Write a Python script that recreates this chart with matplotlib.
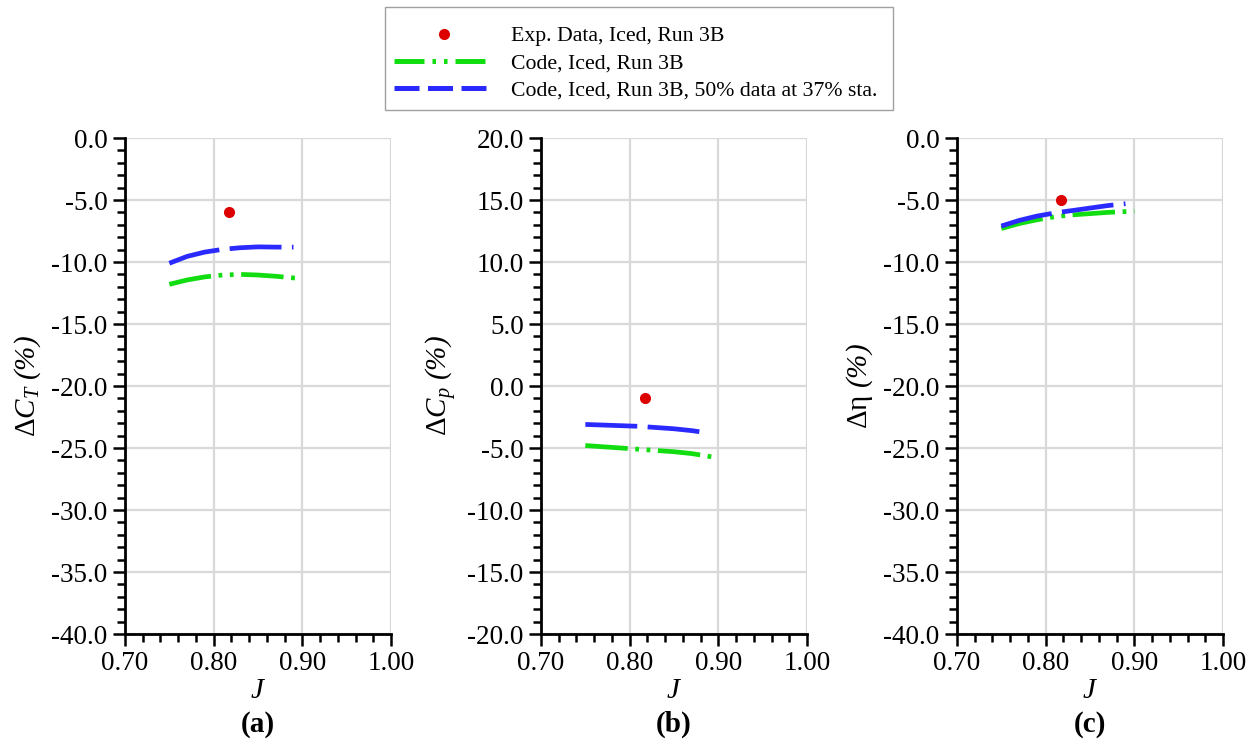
import matplotlib
matplotlib.use('Agg')
import matplotlib.pyplot as plt
from matplotlib.lines import Line2D
from matplotlib.patches import Rectangle
from matplotlib.ticker import MultipleLocator, FormatStrFormatter

plt.rcParams['font.family'] = ['Liberation Serif', 'DejaVu Serif']
plt.rcParams['mathtext.fontset'] = 'custom'
plt.rcParams['mathtext.rm'] = 'Liberation Serif:italic'
plt.rcParams['mathtext.it'] = 'Liberation Serif:italic'
plt.rcParams['mathtext.bf'] = 'Liberation Serif:bold'

# 資料
exp_J = [0.817]
exp_ct = [-6.0]
exp_cp = [-1.0]
exp_eta = [-5.0]

code_J = [0.75, 0.77, 0.79, 0.81, 0.83, 0.85, 0.87, 0.90]
code_ct = [-11.8, -11.45, -11.2, -11.05, -11.0, -11.05, -11.15, -11.35]
code_cp = [-4.8, -4.9, -5.0, -5.1, -5.2, -5.3, -5.45, -5.8]
code_eta = [-7.3, -6.9, -6.6, -6.35, -6.2, -6.1, -6.0, -5.9]

c50_J = [0.75, 0.77, 0.79, 0.81, 0.83, 0.85, 0.87, 0.89]
c50_ct = [-10.1, -9.55, -9.2, -8.98, -8.85, -8.78, -8.8, -8.8]
c50_cp = [-3.1, -3.15, -3.2, -3.25, -3.35, -3.45, -3.6, -3.8]
c50_eta = [-7.1, -6.65, -6.3, -6.05, -5.85, -5.65, -5.45, -5.3]

red = '#dd0000'
green = '#11dd11'
blue = '#2a2aff'

fig = plt.figure(figsize=(12.6, 7.49), dpi=100)

lefts = [125, 541, 957]
panels = [
    (exp_ct, code_ct, c50_ct, (-40, 0), r'Δ$C_T\ (\%)$', '(a)'),
    (exp_cp, code_cp, c50_cp, (-20, 20), r'Δ$C_p\ (\%)$', '(b)'),
    (exp_eta, code_eta, c50_eta, (-40, 0), r'Δη $(\%)$', '(c)'),
]

for left, (ye, yc, y50, ylim, ylab, tag) in zip(lefts, panels):
    ax = fig.add_axes([left / 1260, 1 - 634 / 749, 266 / 1260, 496 / 749])
    ax.plot(code_J, yc, color=green, lw=3.4, dashes=(9, 1.6, 0.8, 1.6, 0.8, 1.6),
            dash_capstyle='butt', zorder=3)
    ax.plot(c50_J, y50, color=blue, lw=3.4, dashes=(11, 2.2),
            dash_capstyle='butt', zorder=3)
    ax.plot(exp_J, ye, 'o', color=red, ms=7, zorder=4)
    ax.set_xlim(0.70, 1.00)
    ax.set_ylim(*ylim)
    ax.xaxis.set_major_locator(MultipleLocator(0.1))
    ax.xaxis.set_minor_locator(MultipleLocator(0.02))
    ax.yaxis.set_major_locator(MultipleLocator(5))
    ax.yaxis.set_minor_locator(MultipleLocator(1))
    ax.xaxis.set_major_formatter(FormatStrFormatter('%.2f'))
    ax.yaxis.set_major_formatter(FormatStrFormatter('%.1f'))
    ax.grid(True, which='major', color='#d9d9d9', lw=1.6, zorder=0)
    ax.set_axisbelow(True)
    for s in ['top', 'right']:
        ax.spines[s].set_visible(False)
    for s in ['left', 'bottom']:
        ax.spines[s].set_linewidth(2.0)
        ax.spines[s].set_zorder(5)
    ax.tick_params(which='major', length=8.5, width=1.8, labelsize=19.5, direction='out', pad=4)
    ax.tick_params(which='minor', length=5.5, width=1.8, direction='out')
    ax.set_xlabel(r'$J$', fontsize=21, labelpad=1)
    ax.set_ylabel(ylab, fontsize=21, labelpad=6)
    ax.text(0.5, -0.155, tag, transform=ax.transAxes, ha='center', va='top',
            fontsize=21, fontweight='bold')

fig.patches.append(Rectangle((385 / 1260, 1 - 110 / 749), 508 / 1260, 103 / 749,
                             transform=fig.transFigure, fill=False,
                             edgecolor='#a0a0a0', lw=1.0))

handles = [
    Line2D([], [], ls='none', marker='o', color=red, ms=7),
    Line2D([], [], color=green, lw=3.6, dashes=(6, 1.6, 0.7, 1.6, 0.7, 1.6), dash_capstyle='butt'),
    Line2D([], [], color=blue, lw=3.6, dashes=(5, 1.7), dash_capstyle='butt'),
]
labels = ['Exp. Data, Iced, Run 3B', 'Code, Iced, Run 3B',
          'Code, Iced, Run 3B, 50% data at 37% sta.']
leg = fig.legend(handles, labels, loc='center', bbox_to_anchor=(636 / 1260, 1 - 63.5 / 749),
                 fontsize=15.7, frameon=False, handlelength=4.5,
                 handletextpad=0.85, labelspacing=0.32, borderpad=0, borderaxespad=0)

fig.savefig('out.png', dpi=100, facecolor='white')
